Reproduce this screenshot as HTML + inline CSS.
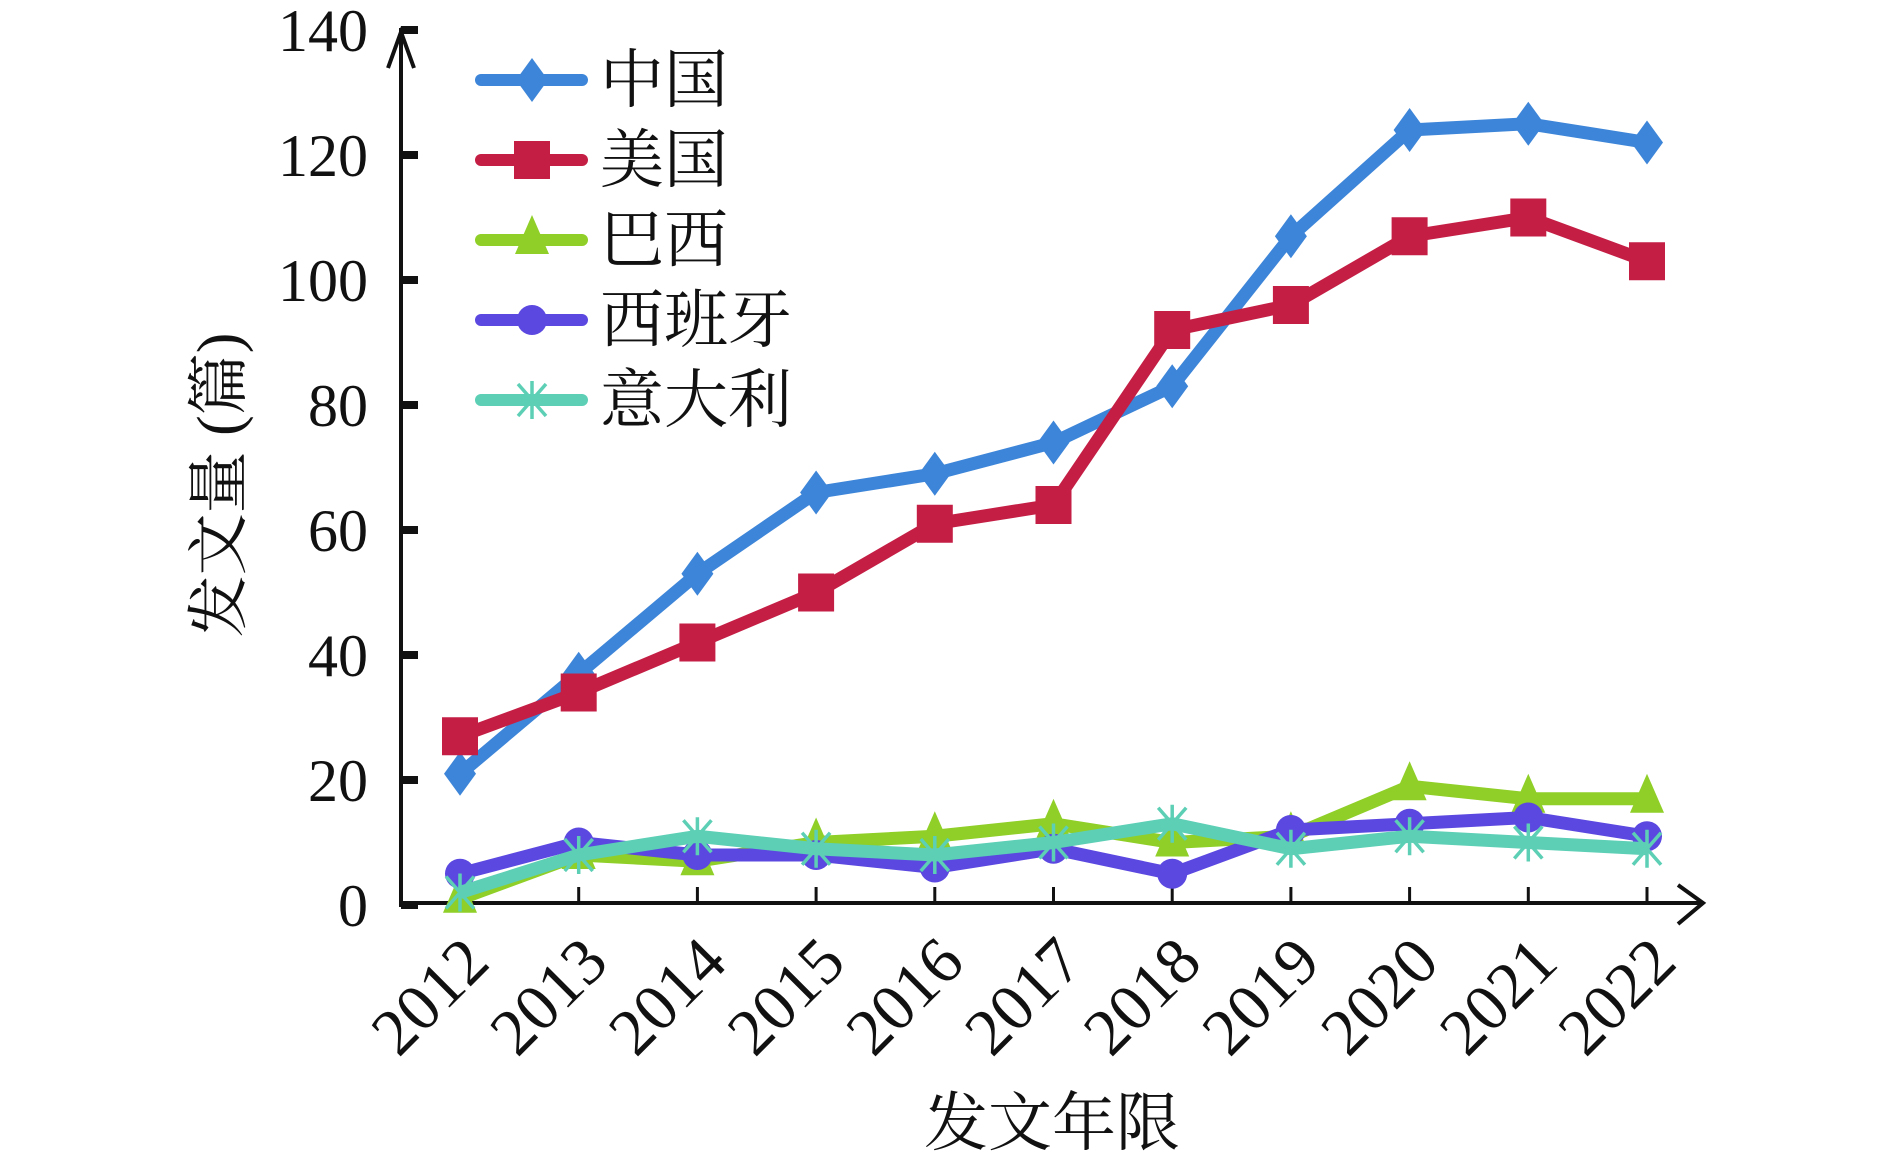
<!DOCTYPE html>
<html><head><meta charset="utf-8"><style>
html,body{margin:0;padding:0;background:#fff;}
svg{display:block;}
text{font-family:"Liberation Serif","Noto Serif CJK SC",serif;fill:#111;}
</style></head><body>
<svg id="chart" width="1890" height="1164" viewBox="0 0 1890 1164" xmlns="http://www.w3.org/2000/svg">
<g id="axes"></g>
<g id="series"></g>
<g id="legend"></g>
</svg>
<script>
const categories = ["2012","2013","2014","2015","2016","2017","2018","2019","2020","2021","2022"];
const yTicks = [0,20,40,60,80,100,120,140];
const seriesNames = ["中国","美国","巴西","西班牙","意大利"];
const chinaValues = [21,37,53,66,69,74,83,107,124,125,122];
const usaValues = [27,34,42,50,61,64,92,96,107,110,103];
const brazilValues = [1,8,7,10,11,13,10,11,19,17,17];
const spainValues = [5,10,8,8,6,9,5,12,13,14,11];
const italyValues = [2,8,11,9,8,10,13,9,11,10,9];

const NS="http://www.w3.org/2000/svg";
const X0=460, XSTEP=118.7, Y0=905, YPX=6.25, AX=401;
function xs(i){return X0+i*XSTEP;}
function ys(v){return Y0-v*YPX;}
function mk(tag,attrs,parent){const e=document.createElementNS(NS,tag);for(const k in attrs)e.setAttribute(k,attrs[k]);parent.appendChild(e);return e;}
const axes=document.getElementById('axes');
let e=mk('line',{x1:AX,y1:ys(0)+2,x2:AX,y2:28,stroke:'#111','stroke-width':4},axes);


e=mk('polyline',{points:`${AX-13},68 ${AX},32 ${AX+13},68`,fill:'none',stroke:'#111','stroke-width':4},axes);


e=mk('line',{x1:AX,y1:903,x2:1703,y2:903,stroke:'#111','stroke-width':4},axes);


e=mk('polyline',{points:`1678,885 1703,903 1678,924`,fill:'none',stroke:'#111','stroke-width':4},axes);


yTicks.forEach(v=>{
  const y=ys(v);
  const t=mk('rect',{x:AX,y:y-4,width:17,height:8,fill:'#111'},axes);
  
  
  const l=mk('text',{x:368,y:y+21,'font-size':60,'text-anchor':'end'},axes);
  l.textContent=v;
  
  
});
categories.forEach((c,i)=>{
  const x=xs(i);
  if(i>0){const t=mk('line',{x1:x,y1:903,x2:x,y2:887,stroke:'#111','stroke-width':3},axes);
  
  }
  const l=mk('text',{x:0,y:0,'font-size':66,'text-anchor':'end',transform:`translate(${x+32},${965}) rotate(-45)`},axes);
  l.textContent=c;
  
  
});
e=mk('text',{x:1052,y:1145,'font-size':64,'text-anchor':'middle'},axes);
e.textContent='发文年限';


e=mk('text',{x:0,y:0,'font-size':62,'text-anchor':'middle',transform:'translate(240,485) rotate(-90)'},axes);
e.textContent='发文量 (篇)';



const colors=['#3d85d8','#c41e45','#8fcf27','#5b48e0','#5ccfb5'];
const kinds=['diamond','square','triangle','circle','star'];
const allValues=[chinaValues,usaValues,brazilValues,spainValues,italyValues];
function marker(kind,x,y,col,g){
  let m;
  if(kind==='diamond') m=mk('polygon',{points:`${x},${y-22} ${x+16},${y} ${x},${y+22} ${x-16},${y}`,fill:col},g);
  else if(kind==='square') m=mk('rect',{x:x-18,y:y-19,width:36,height:38,fill:col},g);
  else if(kind==='triangle') m=mk('polygon',{points:`${x},${y-25} ${x+17},${y+14} ${x-17},${y+14}`,fill:col},g);
  else if(kind==='circle') m=mk('circle',{cx:x,cy:y,r:15,fill:col},g);
  else { m=mk('path',{d:`M${x},${y-19}V${y+19}M${x-14},${y-16}L${x+14},${y+16}M${x+14},${y-16}L${x-14},${y+16}`,stroke:col,'stroke-width':3.5,fill:'none'},g); }
  return m;
}
const sg=document.getElementById('series');
const lg=document.getElementById('legend');
const slugs=['china','usa','brazil','spain','italy'];
allValues.forEach((vals,s)=>{
  const g=mk('g',{},sg);
  
  
  const pts=vals.map((v,i)=>xs(i)+','+ys(v)).join(' ');
  const pl=mk('polyline',{points:pts,fill:'none',stroke:colors[s],'stroke-width':13,'stroke-linejoin':'round'},g);
  
  
  vals.forEach((v,i)=>{
    const m=marker(kinds[s],xs(i),ys(v),colors[s],g);
    
    
  });
  const ly=80+s*80;
  const lgE=mk('g',{},lg);
  
  
  mk('line',{x1:481,y1:ly,x2:582,y2:ly,stroke:colors[s],'stroke-width':12,'stroke-linecap':'round'},lgE);
  marker(kinds[s],532,ly,colors[s],lgE);
  const t=mk('text',{x:600,y:ly+22,'font-size':64},lgE);
  t.textContent=seriesNames[s];
});
</script>
</body></html>
